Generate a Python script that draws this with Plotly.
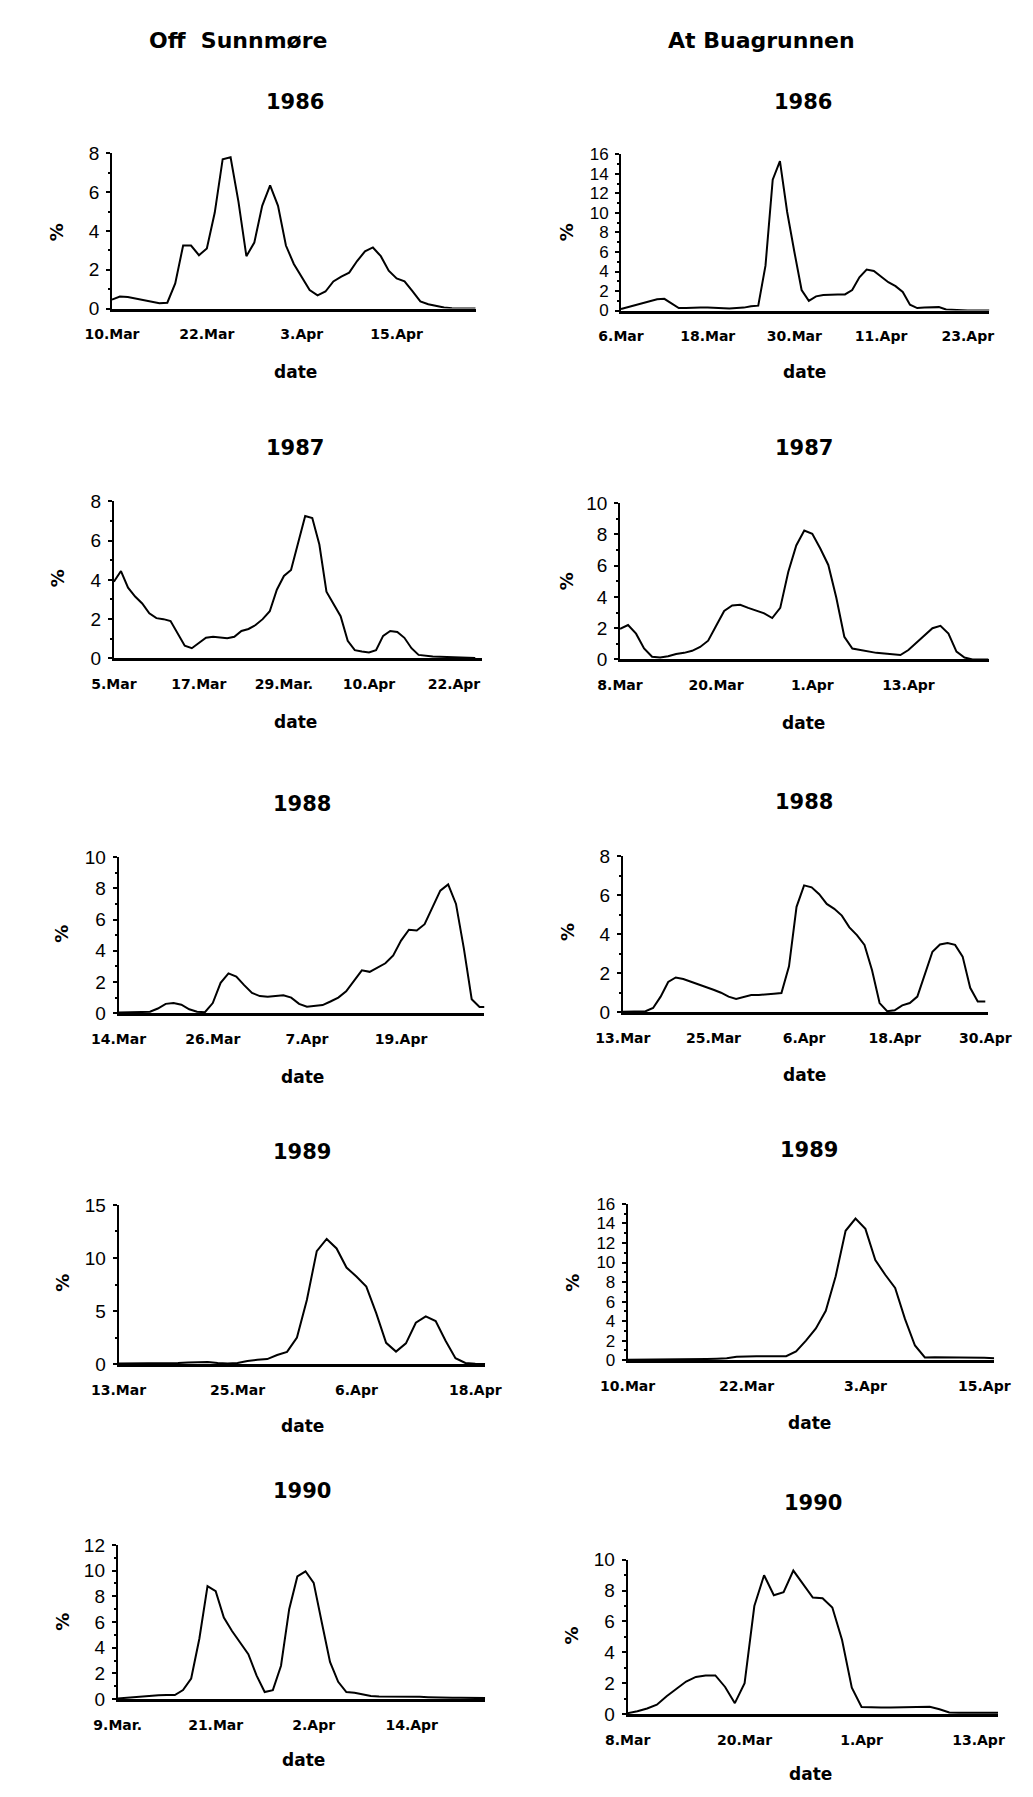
import pandas as pd
import plotly.graph_objects as go

W, H = 1033, 1797

# ---------------- data (daily values, %) ----------------
start_sunn_1986 = "1986-03-10"
sunn_1986 = [0.46, 0.62, 0.6, 0.52, 0.44, 0.35, 0.27, 0.3, 1.3, 3.25,
             3.25, 2.75, 3.1, 4.95, 7.7, 7.8, 5.5, 2.7, 3.4, 5.3,
             6.35, 5.3, 3.25, 2.3, 1.6, 0.95, 0.68, 0.88, 1.4, 1.65,
             1.85, 2.45, 2.95, 3.15, 2.7, 1.95, 1.55, 1.4, 0.9, 0.37,
             0.22, 0.14, 0.05, 0.02, 0, 0, 0]
ticks_sunn_1986 = ["1986-03-10", "1986-03-22", "1986-04-03", "1986-04-15"]
labels_sunn_1986 = ["10.Mar", "22.Mar", "3.Apr", "15.Apr"]

start_bua_1986 = "1986-03-06"
bua_1986 = [0.15, 0.35, 0.55, 0.75, 0.95, 1.15, 1.2, 0.75, 0.25, 0.25,
            0.3, 0.3, 0.3, 0.25, 0.2, 0.2, 0.25, 0.3, 0.45, 0.5,
            4.6, 13.4, 15.3, 10.1, 6.0, 2.1, 1.0, 1.45, 1.6, 1.65,
            1.65, 1.65, 2.1, 3.4, 4.2, 4.05, 3.45, 2.9, 2.5, 1.9,
            0.6, 0.25, 0.3, 0.35, 0.35, 0.1, 0.05, 0, 0, 0,
            0, 0]
ticks_bua_1986 = ["1986-03-06", "1986-03-18", "1986-03-30", "1986-04-11", "1986-04-23"]
labels_bua_1986 = ["6.Mar", "18.Mar", "30.Mar", "11.Apr", "23.Apr"]

start_sunn_1987 = "1987-03-05"
sunn_1987 = [3.9, 4.45, 3.6, 3.15, 2.8, 2.3, 2.05, 2.0, 1.9, 1.3,
             0.65, 0.52, 0.8, 1.05, 1.1, 1.08, 1.03, 1.1, 1.4, 1.5,
             1.7, 2.0, 2.4, 3.5, 4.2, 4.5, 5.95, 7.25, 7.15, 5.8,
             3.4, 2.75, 2.15, 0.9, 0.42, 0.35, 0.3, 0.42, 1.15, 1.4,
             1.35, 1.05, 0.52, 0.18, 0.13, 0.1, 0.08, 0.06, 0.05, 0.04,
             0.03, 0.02]
ticks_sunn_1987 = ["1987-03-05", "1987-03-17", "1987-03-29", "1987-04-10", "1987-04-22"]
labels_sunn_1987 = ["5.Mar", "17.Mar", "29.Mar.", "10.Apr", "22.Apr"]

start_bua_1987 = "1987-03-08"
bua_1987 = [1.95, 2.2, 1.65, 0.7, 0.17, 0.12, 0.2, 0.35, 0.42, 0.55,
            0.8, 1.2, 2.15, 3.1, 3.45, 3.5, 3.3, 3.1, 2.95, 2.65,
            3.3, 5.6, 7.3, 8.25, 8.05, 7.1, 6.05, 3.95, 1.45, 0.7,
            0.6, 0.5, 0.42, 0.38, 0.32, 0.28, 0.6, 1.05, 1.55, 2.0,
            2.15, 1.65, 0.5, 0.12, 0, 0, 0]
ticks_bua_1987 = ["1987-03-08", "1987-03-20", "1987-04-01", "1987-04-13"]
labels_bua_1987 = ["8.Mar", "20.Mar", "1.Apr", "13.Apr"]

start_sunn_1988 = "1988-03-14"
sunn_1988 = [0.05, 0.05, 0.07, 0.08, 0.1, 0.3, 0.6, 0.65, 0.55, 0.25,
             0.1, 0.07, 0.65, 1.95, 2.55, 2.35, 1.8, 1.3, 1.1, 1.05,
             1.1, 1.15, 1.0, 0.6, 0.42, 0.47, 0.52, 0.75, 1.0, 1.4,
             2.1, 2.75, 2.65, 2.95, 3.2, 3.7, 4.65, 5.35, 5.3, 5.7,
             6.8, 7.85, 8.25, 7.0, 4.15, 0.9, 0.4, 0.4]
ticks_sunn_1988 = ["1988-03-14", "1988-03-26", "1988-04-07", "1988-04-19"]
labels_sunn_1988 = ["14.Mar", "26.Mar", "7.Apr", "19.Apr"]

start_bua_1988 = "1988-03-13"
bua_1988 = [0.02, 0.03, 0.03, 0.05, 0.22, 0.8, 1.55, 1.78, 1.7, 1.57,
            1.4, 1.28, 1.15, 1.0, 0.8, 0.68, 0.78, 0.88, 0.88, 0.9,
            0.95, 0.98, 2.35, 5.4, 6.5, 6.4, 6.05, 5.55, 5.3, 4.95,
            4.35, 3.95, 3.45, 2.15, 0.47, 0.05, 0.1, 0.35, 0.47, 0.8,
            2.0, 3.1, 3.47, 3.55, 3.45, 2.85, 1.25, 0.55, 0.55]
ticks_bua_1988 = ["1988-03-13", "1988-03-25", "1988-04-06", "1988-04-18", "1988-04-30"]
labels_bua_1988 = ["13.Mar", "25.Mar", "6.Apr", "18.Apr", "30.Apr"]

start_sunn_1989 = "1989-03-13"
sunn_1989 = [0.05, 0.05, 0.05, 0.05, 0.08, 0.1, 0.1, 0.15, 0.2, 0.2,
             0.1, 0.06, 0.1, 0.3, 0.4, 0.47, 0.85, 1.15, 2.5, 6.05,
             10.65, 11.8, 10.9, 9.1, 8.25, 7.3, 4.8, 2.0, 1.18, 1.95,
             3.9, 4.5, 4.05, 2.2, 0.55, 0.1, 0.03, 0]
ticks_sunn_1989 = ["1989-03-13", "1989-03-25", "1989-04-06", "1989-04-18"]
labels_sunn_1989 = ["13.Mar", "25.Mar", "6.Apr", "18.Apr"]

start_bua_1989 = "1989-03-10"
bua_1989 = [0.05, 0.05, 0.05, 0.05, 0.05, 0.08, 0.1, 0.1, 0.12, 0.15,
            0.2, 0.35, 0.4, 0.4, 0.4, 0.4, 0.4, 0.9, 2.0, 3.25,
            5.05, 8.6, 13.25, 14.5, 13.45, 10.25, 8.75, 7.4, 4.2, 1.5,
            0.27, 0.3, 0.3, 0.3, 0.3, 0.3, 0.25, 0.2]
ticks_bua_1989 = ["1989-03-10", "1989-03-22", "1989-04-03", "1989-04-15"]
labels_bua_1989 = ["10.Mar", "22.Mar", "3.Apr", "15.Apr"]

start_sunn_1990 = "1990-03-09"
sunn_1990 = [0.05, 0.1, 0.15, 0.25, 0.3, 0.3, 0.32, 0.32, 0.7, 1.6,
             4.7, 8.8, 8.4, 6.35, 5.3, 4.4, 3.5, 1.85, 0.55, 0.7,
             2.6, 7.0, 9.55, 9.95, 9.05, 5.95, 2.9, 1.35, 0.55, 0.5,
             0.35, 0.25, 0.2, 0.2, 0.22, 0.22, 0.2, 0.18, 0.15, 0.12,
             0.1, 0.1, 0.1, 0.08, 0.08, 0.08]
ticks_sunn_1990 = ["1990-03-09", "1990-03-21", "1990-04-02", "1990-04-14"]
labels_sunn_1990 = ["9.Mar.", "21.Mar", "2.Apr", "14.Apr"]

start_bua_1990 = "1990-03-08"
bua_1990 = [0.05, 0.17, 0.35, 0.6, 1.15, 1.65, 2.1, 2.4, 2.5, 2.5,
            1.75, 0.7, 2.0, 7.0, 9.0, 7.7, 7.9, 9.3, 8.4, 7.55,
            7.5, 6.9, 4.8, 1.7, 0.45, 0.42, 0.42, 0.42, 0.43, 0.45,
            0.47, 0.47, 0.3, 0.1, 0.08, 0.08, 0.08, 0.08, 0.08]
ticks_bua_1990 = ["1990-03-08", "1990-03-20", "1990-04-01", "1990-04-13"]
labels_bua_1990 = ["8.Mar", "20.Mar", "1.Apr", "13.Apr"]

years = ["1986", "1987", "1988", "1989", "1990"]
y_max = {"sunn": [8, 8, 10, 15, 12], "bua": [16, 10, 8, 16, 10]}
y_step = {"sunn": [2, 2, 2, 5, 2], "bua": [2, 2, 2, 2, 2]}
x_days = {"sunn": [46, 52, 46.6, 37, 45], "bua": [51, 46, 48.3, 37, 38]}

series = {
    "sunn": [(start_sunn_1986, sunn_1986, ticks_sunn_1986, labels_sunn_1986),
             (start_sunn_1987, sunn_1987, ticks_sunn_1987, labels_sunn_1987),
             (start_sunn_1988, sunn_1988, ticks_sunn_1988, labels_sunn_1988),
             (start_sunn_1989, sunn_1989, ticks_sunn_1989, labels_sunn_1989),
             (start_sunn_1990, sunn_1990, ticks_sunn_1990, labels_sunn_1990)],
    "bua": [(start_bua_1986, bua_1986, ticks_bua_1986, labels_bua_1986),
            (start_bua_1987, bua_1987, ticks_bua_1987, labels_bua_1987),
            (start_bua_1988, bua_1988, ticks_bua_1988, labels_bua_1988),
            (start_bua_1989, bua_1989, ticks_bua_1989, labels_bua_1989),
            (start_bua_1990, bua_1990, ticks_bua_1990, labels_bua_1990)],
}

# ---------------- layout geometry (pixels) ----------------
# plot boxes: x0, x1, y_top, y_zero
boxes = {
    "sunn": [(80, 463, 137, 294), (82, 470, 489, 648), (87, 472, 849, 1007),
             (87, 473, 1201, 1362), (86, 473, 1545, 1701)],
    "bua": [(616, 1004, 138, 296), (615, 1003, 491, 649), (618, 1002, 848, 1006),
            (623, 1009, 1200, 1358), (623, 1013, 1560, 1716)],
}
title_pos = {"sunn": [(273, 85), (273, 435), (280, 795), (280, 1147), (280, 1490)],
             "bua": [(808, 85), (809, 435), (809, 793), (814, 1145), (818, 1503)]}
date_pos = {"sunn": [(273, 358), (273, 712), (281, 1072), (281, 1425), (282, 1763)],
            "bua": [(809, 358), (808, 713), (809, 1070), (815, 1422), (816, 1777)]}
pct_pos = {"sunn": [(22, 217), (23, 567), (27, 927), (27, 1280), (27, 1623)],
           "bua": [(559, 217), (558, 570), (559, 925), (564, 1280), (564, 1637)]}


def px(x):
    return x / W


def py(y):
    return 1 - y / H


fig = go.Figure()
annotations = []
layout = {}
idx = 0
for col in ["sunn", "bua"]:
    for r in range(5):
        idx += 1
        start, vals, tvals, tlabels = series[col][r]
        dates = pd.date_range(start, periods=len(vals), freq="D")
        x0, x1, yt, yz = boxes[col][r]
        sfx = "" if idx == 1 else str(idx)
        fig.add_trace(go.Scatter(
            x=dates, y=vals, mode="lines",
            line=dict(color="black", width=2),
            xaxis="x" + sfx, yaxis="y" + sfx, showlegend=False,
            hoverinfo="skip"))
        end = pd.Timestamp(start) + pd.Timedelta(hours=24 * x_days[col][r])
        ymax = y_max[col][r]
        dense = ymax == 16
        layout["xaxis" + sfx] = dict(
            domain=[px(x0), px(x1)], anchor="y" + sfx, type="date",
            range=[pd.Timestamp(start), end],
            tickmode="array", tickvals=tvals, ticktext=tlabels,
            showline=True, linecolor="black", linewidth=2.8,
            ticks="", showgrid=False, zeroline=False, tickangle=0,
            ticklabelstandoff=11,
            tickfont=dict(family="DejaVu Sans", size=14, color="black", weight=700))
        layout["yaxis" + sfx] = dict(
            domain=[py(yz), py(yt)], anchor="x" + sfx,
            range=[0, ymax], tick0=0, dtick=y_step[col][r],
            showline=True, linecolor="black", linewidth=1.8,
            ticks="outside", ticklen=4, tickwidth=1.6, tickcolor="black",
            minor=dict(ticks="outside", ticklen=2, tickcolor="black",
                       dtick=y_step[col][r] / 2),
            showgrid=False, zeroline=False, ticklabelstandoff=3,
            tickfont=dict(family="Liberation Sans", size=17 if dense else 19,
                          color="black"))
        tx, ty = title_pos[col][r]
        annotations.append(dict(x=px(tx), y=py(ty), xref="paper", yref="paper",
                                text=years[r], showarrow=False,
                                xanchor="center", yanchor="middle",
                                font=dict(family="DejaVu Sans", size=21,
                                          color="black", weight=700)))
        dx, dy = date_pos[col][r]
        annotations.append(dict(x=px(dx), y=py(dy), xref="paper", yref="paper",
                                text="date", showarrow=False,
                                xanchor="center", yanchor="middle",
                                font=dict(family="DejaVu Sans", size=17,
                                          color="black", weight=700)))
        qx, qy = pct_pos[col][r]
        annotations.append(dict(x=px(qx), y=py(qy), xref="paper", yref="paper",
                                text="%", showarrow=False, textangle=-90,
                                xanchor="center", yanchor="middle",
                                font=dict(family="DejaVu Sans", size=18,
                                          color="black", weight=700)))

annotations.append(dict(x=px(213), y=py(23), xref="paper", yref="paper",
                        text="Off  Sunnmøre", showarrow=False,
                        xanchor="center", yanchor="middle",
                        font=dict(family="DejaVu Sans", size=22, color="black", weight=700)))
annotations.append(dict(x=px(764), y=py(23), xref="paper", yref="paper",
                        text="At Buagrunnen", showarrow=False,
                        xanchor="center", yanchor="middle",
                        font=dict(family="DejaVu Sans", size=22, color="black", weight=700)))

fig.update_layout(
    width=W, height=H, margin=dict(l=0, r=0, t=0, b=0),
    paper_bgcolor="white", plot_bgcolor="white",
    annotations=annotations, **layout)

fig.write_html("out.html")
